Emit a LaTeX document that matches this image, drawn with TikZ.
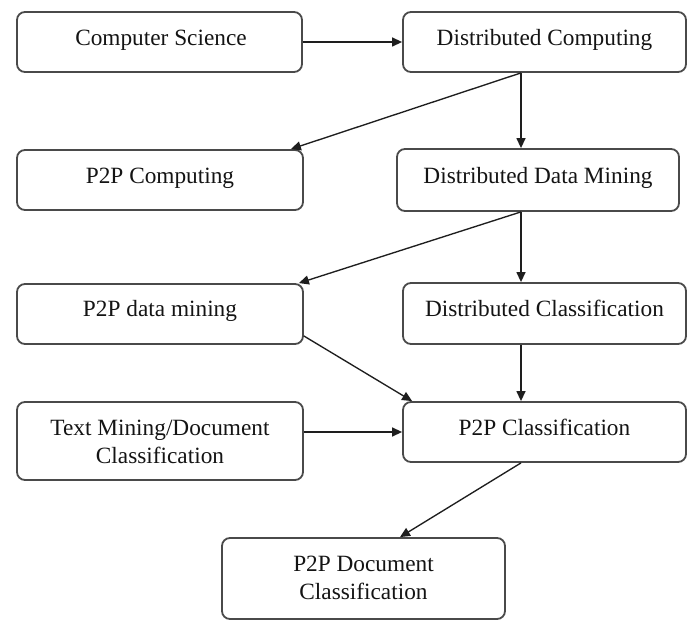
\documentclass[tikz,border=0pt]{standalone}
\usepackage{fontspec}
\setmainfont{Liberation Serif}
\usetikzlibrary{arrows.meta,calc}

\definecolor{boxline}{HTML}{4A4A4A}
\definecolor{inkline}{HTML}{1E1E1E}
\definecolor{inktext}{HTML}{141414}

\tikzset{
  stagebox/.style={draw=boxline, line width=1.8pt, rounded corners=8pt,
    fill=white, inner sep=0pt},
  stagetext/.style={anchor=base, inner sep=0pt, text=inktext,
    font=\fontsize{23.3}{28}\selectfont},
  flow/.style={draw=inkline, line width=1.35pt,
    -{Triangle[length=10pt,width=9pt]}},
}

\begin{document}
\begin{tikzpicture}[x=1pt,y=-1pt]
  \useasboundingbox (0,0) rectangle (691,620);
  \clip (0,0) rectangle (691,620);

  % boxes: centre, width, height
  \node[stagebox, minimum width=285pt, minimum height=60pt] (cs)   at (159.5,42) {};
  \node[stagebox, minimum width=283pt, minimum height=60pt] (dc)   at (544.5,42) {};
  \node[stagebox, minimum width=286pt, minimum height=60pt] (pc)   at (160,180) {};
  \node[stagebox, minimum width=282pt, minimum height=62pt] (ddm)  at (538,180) {};
  \node[stagebox, minimum width=286pt, minimum height=60pt] (pdm)  at (160,314) {};
  \node[stagebox, minimum width=283pt, minimum height=61pt] (dcl)  at (544.5,313.5) {};
  \node[stagebox, minimum width=286pt, minimum height=78pt] (tm)   at (160,441) {};
  \node[stagebox, minimum width=283pt, minimum height=60pt] (pcl)  at (544.5,432) {};
  \node[stagebox, minimum width=283pt, minimum height=81pt] (pdoc) at (363.5,578.5) {};

  % labels, set on a baseline about 34pt below each box top
  \node[stagetext] (cs-t)   at ($(cs.north)+(1.5,34)$)  {Computer Science};
  \node[stagetext] (dc-t)   at ($(dc.north)+(0,34)$)    {Distributed Computing};
  \node[stagetext] (pc-t)   at ($(pc.north)+(0,34)$)    {P2P Computing};
  \node[stagetext] (ddm-t)  at ($(ddm.north)+(0,35)$)   {Distributed Data Mining};
  \node[stagetext] (pdm-t)  at ($(pdm.north)+(0,33)$)   {P2P data mining};
  \node[stagetext] (dcl-t)  at ($(dcl.north)+(0,34)$)   {Distributed Classification};
  \node[stagetext] (tm-t1)  at ($(tm.north)+(0,34)$)    {Text Mining/Document};
  \node[stagetext] (tm-t2)  at ($(tm.north)+(0,62)$)    {Classification};
  \node[stagetext] (pcl-t)  at ($(pcl.north)+(0,34)$)   {P2P Classification};
  \node[stagetext] (pdoc-t1) at ($(pdoc.north)+(0,34)$) {P2P Document};
  \node[stagetext] (pdoc-t2) at ($(pdoc.north)+(0,62)$) {Classification};

  % vertical spine on the right-hand column
  \coordinate (spine) at (521,0);

  % connectors
  \draw[flow] (cs.east) -- (dc.west);
  \draw[flow] (dc.south -| spine) -- (ddm.north -| spine);
  \draw[flow] (dc.south -| spine) -- ([xshift=-13pt]pc.north east);
  \draw[flow] (ddm.south -| spine) -- (dcl.north -| spine);
  \draw[flow] (ddm.south -| spine) -- ([xshift=-5pt]pdm.north east);
  \draw[flow] (dcl.south -| spine) -- (pcl.north -| spine);
  \draw[flow] ([yshift=-22pt]pdm.east) -- ([xshift=10pt]pcl.north west);
  \draw[flow] (tm.east |- pcl.west) -- (pcl.west);
  \draw[flow] (pcl.south -| spine) -- ([xshift=36.5pt]pdoc.north);
\end{tikzpicture}
\end{document}
